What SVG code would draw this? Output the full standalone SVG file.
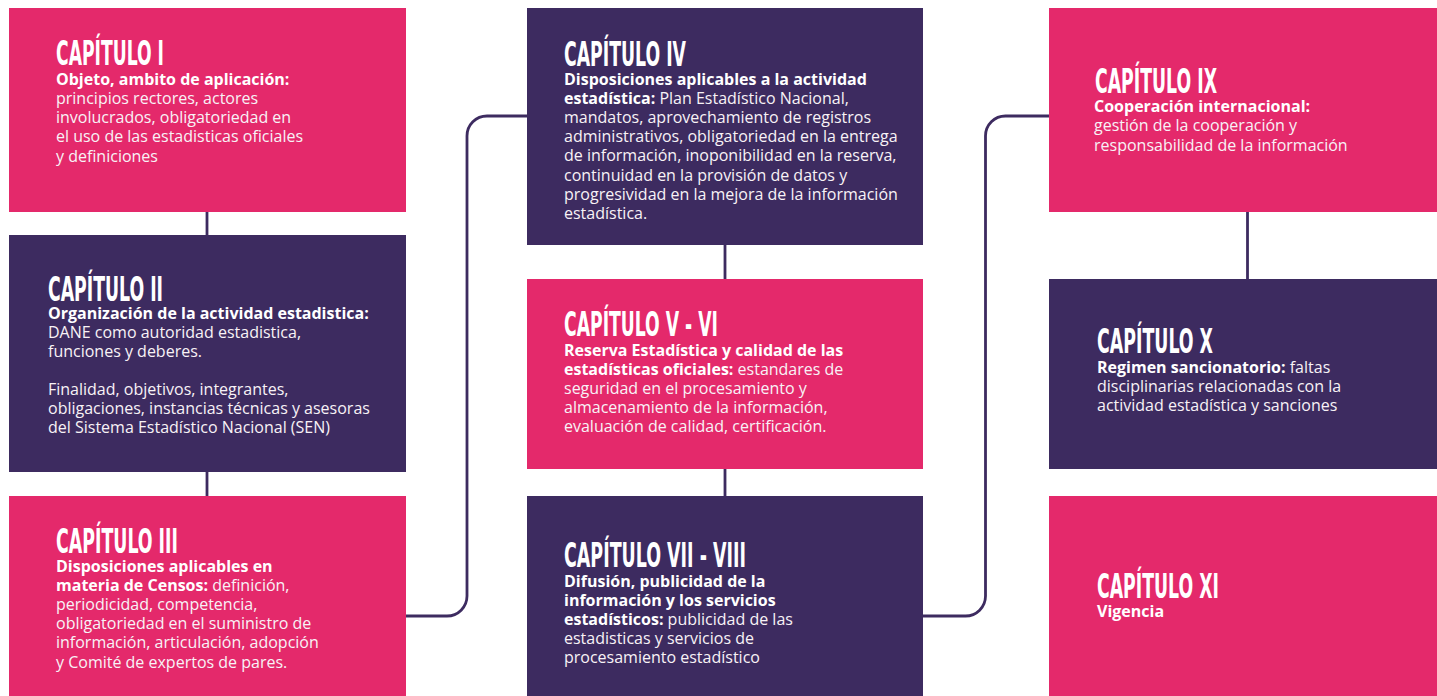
<svg xmlns="http://www.w3.org/2000/svg" width="1437" height="696" viewBox="0 0 1437 696">
<style>
.pink{fill:#e4296b}
.purple{fill:#3d2b60}
.title{font-family:"Liberation Sans Narrow","DejaVu Sans Condensed","Liberation Sans",sans-serif;font-weight:700;font-size:34.5px;fill:#fff}
.body{font-family:"Open Sans","Noto Sans","Liberation Sans",sans-serif;font-size:16px;fill:#f8f2f6}
.b{font-weight:700;fill:#fff}
.conn{fill:none;stroke:#3d2b60;stroke-width:2.8}
</style>
<rect width="1437" height="696" fill="#fff"/>
<g id="connectors">
<line class="conn" x1="207" y1="211" x2="207" y2="236"/>
<line class="conn" x1="207" y1="471" x2="207" y2="497"/>
<line class="conn" x1="725" y1="244" x2="725" y2="280"/>
<line class="conn" x1="725" y1="468" x2="725" y2="497"/>
<line class="conn" x1="1247.5" y1="211" x2="1247.5" y2="280"/>
<path class="conn" d="M405,616 H447 A20,20 0 0 0 467,596 V136 A20,20 0 0 1 487,116 H528"/>
<path class="conn" d="M922,616 H965.5 A20,20 0 0 0 985.5,596 V136 A20,20 0 0 1 1005.5,116 H1050"/>
</g>
<g id="cap1">
<rect class="pink" x="9" y="8" width="397" height="204"/>
<text class="title" x="56" y="65" textLength="108" lengthAdjust="spacingAndGlyphs">CAPÍTULO I</text>
<text class="body" x="56" y="85"><tspan class="b">Objeto, ambito de aplicación:</tspan><tspan x="56" y="104.2">principios rectores, actores</tspan><tspan x="56" y="123.3">involucrados, obligatoriedad en</tspan><tspan x="56" y="142.4">el uso de las estadisticas oficiales</tspan><tspan x="56" y="161.5">y definiciones</tspan></text>
</g>
<g id="cap2">
<rect class="purple" x="9" y="235" width="397" height="237"/>
<text class="title" x="48" y="300.5" textLength="115" lengthAdjust="spacingAndGlyphs">CAPÍTULO II</text>
<text class="body" x="48" y="318.5"><tspan class="b">Organización de la actividad estadistica:</tspan><tspan x="48" y="337.6">DANE como autoridad estadistica,</tspan><tspan x="48" y="356.7">funciones y deberes.</tspan><tspan x="48" y="395">Finalidad, objetivos, integrantes,</tspan><tspan x="48" y="414.1">obligaciones, instancias técnicas y asesoras</tspan><tspan x="48" y="433.2">del Sistema Estadístico Nacional (SEN)</tspan></text>
</g>
<g id="cap3">
<rect class="pink" x="9" y="496" width="397" height="200"/>
<text class="title" x="56" y="553" textLength="122" lengthAdjust="spacingAndGlyphs">CAPÍTULO III</text>
<text class="body" x="56" y="572"><tspan class="b">Disposiciones aplicables en</tspan><tspan x="56" y="591.1"><tspan class="b">materia de Censos:</tspan> definición,</tspan><tspan x="56" y="610.2">periodicidad, competencia,</tspan><tspan x="56" y="629.3">obligatoriedad en el suministro de</tspan><tspan x="56" y="648.4">información, articulación, adopción</tspan><tspan x="56" y="667.5">y Comité de expertos de pares.</tspan></text>
</g>
<g id="cap4">
<rect class="purple" x="527" y="8" width="396" height="237"/>
<text class="title" x="564" y="65.5" textLength="122" lengthAdjust="spacingAndGlyphs">CAPÍTULO IV</text>
<text class="body" x="564" y="85"><tspan class="b">Disposiciones aplicables a la actividad</tspan><tspan x="564" y="104.1"><tspan class="b">estadística:</tspan> Plan Estadístico Nacional,</tspan><tspan x="564" y="123.2">mandatos, aprovechamiento de registros</tspan><tspan x="564" y="142.3">administrativos, obligatoriedad en la entrega</tspan><tspan x="564" y="161.4">de información, inoponibilidad en la reserva,</tspan><tspan x="564" y="180.5">continuidad en la provisión de datos y</tspan><tspan x="564" y="199.6">progresividad en la mejora de la información</tspan><tspan x="564" y="218.7">estadística.</tspan></text>
</g>
<g id="cap5-6">
<rect class="pink" x="527" y="279" width="396" height="190"/>
<text class="title" x="564" y="336" textLength="154" lengthAdjust="spacingAndGlyphs">CAPÍTULO V - VI</text>
<text class="body" x="564" y="356"><tspan class="b">Reserva Estadística y calidad de las</tspan><tspan x="564" y="375.1"><tspan class="b">estadísticas oficiales:</tspan> estandares de</tspan><tspan x="564" y="394.2">seguridad en el procesamiento y</tspan><tspan x="564" y="413.3">almacenamiento de la información,</tspan><tspan x="564" y="432.4">evaluación de calidad, certificación.</tspan></text>
</g>
<g id="cap7-8">
<rect class="purple" x="527" y="496" width="396" height="200"/>
<text class="title" x="564" y="567" textLength="182" lengthAdjust="spacingAndGlyphs">CAPÍTULO VII - VIII</text>
<text class="body" x="564" y="587"><tspan class="b">Difusión, publicidad de la</tspan><tspan x="564" y="606.1" class="b">información y los servicios</tspan><tspan x="564" y="625.2"><tspan class="b">estadísticos:</tspan> publicidad de las</tspan><tspan x="564" y="644.3">estadisticas y servicios de</tspan><tspan x="564" y="663.4">procesamiento estadístico</tspan></text>
</g>
<g id="cap9">
<rect class="pink" x="1049" y="8" width="388" height="204"/>
<text class="title" x="1095" y="92.5" textLength="122" lengthAdjust="spacingAndGlyphs">CAPÍTULO IX</text>
<text class="body" x="1094" y="112.3"><tspan class="b">Cooperación internacional:</tspan><tspan x="1094" y="131.4">gestión de la cooperación y</tspan><tspan x="1094" y="150.5">responsabilidad de la información</tspan></text>
</g>
<g id="cap10">
<rect class="purple" x="1049" y="279" width="388" height="190"/>
<text class="title" x="1097" y="353" textLength="116" lengthAdjust="spacingAndGlyphs">CAPÍTULO X</text>
<text class="body" x="1097" y="372.7"><tspan class="b">Regimen sancionatorio:</tspan> faltas<tspan x="1097" y="391.8">disciplinarias relacionadas con la</tspan><tspan x="1097" y="410.9">actividad estadística y sanciones</tspan></text>
</g>
<g id="cap11">
<rect class="pink" x="1049" y="496" width="388" height="200"/>
<text class="title" x="1097" y="598" textLength="122" lengthAdjust="spacingAndGlyphs">CAPÍTULO XI</text>
<text class="body" x="1097" y="617.3"><tspan class="b">Vigencia</tspan></text>
</g>
</svg>
